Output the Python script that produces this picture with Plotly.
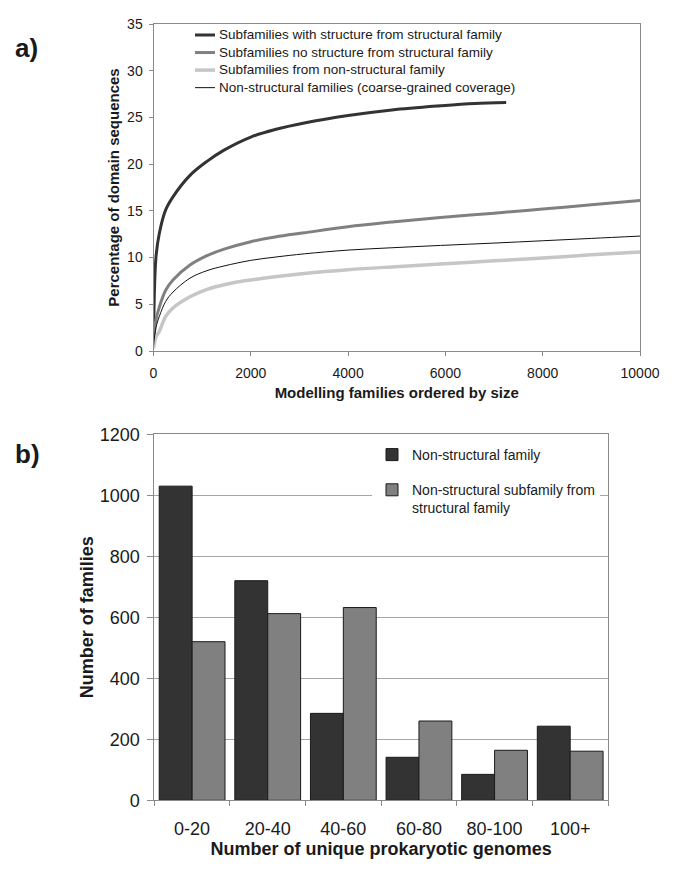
import plotly.graph_objects as go

# panel a: coverage curves (percentage of domain sequences vs modelling families)
series_names = [
    'Subfamilies with structure from structural family',
    'Subfamilies no structure from structural family',
    'Subfamilies from non-structural family',
    'Non-structural families (coarse-grained coverage)',
]
x_struct = [0, 50, 120, 250, 400, 750, 1100, 1450, 2000, 2500, 3100, 4000, 4900, 5900, 6600, 7250]
y_struct = [1.0, 10.0, 12.6, 15.1, 16.5, 18.8, 20.3, 21.5, 22.9, 23.7, 24.4, 25.2, 25.8, 26.25, 26.5, 26.6]

x_rest = [0, 50, 120, 250, 400, 750, 1100, 1450, 2000, 2500, 3100, 4000, 4900, 5900, 7000, 8000, 9000, 10000]
y_nostruct = [0.5, 3.3, 4.7, 6.5, 7.6, 9.2, 10.2, 10.9, 11.7, 12.2, 12.65, 13.3, 13.8, 14.3, 14.75, 15.2, 15.65, 16.1]
y_subnonstruct = [0.3, 1.5, 2.1, 3.7, 4.6, 5.8, 6.6, 7.1, 7.6, 7.95, 8.3, 8.7, 9.0, 9.3, 9.65, 9.95, 10.3, 10.6]
y_nonstruct = [0.5, 2.5, 3.7, 5.3, 6.3, 7.8, 8.6, 9.1, 9.7, 10.05, 10.4, 10.8, 11.05, 11.3, 11.55, 11.8, 12.05, 12.3]

# panel b: families by number of unique prokaryotic genomes
genome_bins = ['0-20', '20-40', '40-60', '60-80', '80-100', '100+']
nonstruct_family = [1030, 720, 285, 141, 85, 243]
nonstruct_subfamily = [520, 612, 632, 260, 164, 161]

W, H = 685, 869
font = 'Liberation Sans, Arial, sans-serif'
txt = '#1a1a1a'
axis_line = '#8a8a8a'

line_styles = [
    dict(color='#333333', width=3),
    dict(color='#808080', width=3),
    dict(color='#c6c6c6', width=3.5),
    dict(color='#111111', width=1),
]

fig = go.Figure()
curve_x = [x_struct, x_rest, x_rest, x_rest]
curve_y = [y_struct, y_nostruct, y_subnonstruct, y_nonstruct]
for name, xs, ys, st in zip(series_names, curve_x, curve_y, line_styles):
    fig.add_trace(go.Scatter(x=xs, y=ys, mode='lines', name=name, showlegend=False,
                             line=dict(shape='spline', smoothing=1.0, **st), xaxis='x', yaxis='y'))

fig.add_trace(go.Bar(x=genome_bins, y=nonstruct_family, name='Non-structural family',
                     marker=dict(color='#333333', line=dict(color='#1a1a1a', width=1)),
                     xaxis='x2', yaxis='y2', legend='legend2', legendgroup='a'))
fig.add_trace(go.Bar(x=genome_bins, y=nonstruct_subfamily, name='Non-structural subfamily from<br>structural family',
                     marker=dict(color='#808080', line=dict(color='#1a1a1a', width=1)),
                     xaxis='x2', yaxis='y2', legend='legend2', legendgroup='b'))

# legend for panel a drawn by hand: one text block plus line samples
leg_fs = 13.5
leg_step = leg_fs * 1.3
leg_top = 35
shapes = []
for i, st in enumerate(line_styles):
    ry = leg_top + i * leg_step
    shapes.append(dict(type='line', xref='paper', yref='paper', x0=195 / W, x1=215 / W,
                       y0=1 - ry / H, y1=1 - ry / H, line=st))

annotations = [
    dict(text='<br>'.join(series_names), align='left', x=217 / W,
         y=1 - (leg_top + 1.5 * leg_step) / H, xref='paper', yref='paper',
         xanchor='left', yanchor='middle', showarrow=False, font=dict(size=leg_fs, color=txt)),
    dict(text='<b>a)</b>', x=26 / W, y=1 - 48 / H, xref='paper', yref='paper', showarrow=False,
         xanchor='center', yanchor='middle', font=dict(size=26, color=txt)),
    dict(text='<b>b)</b>', x=27 / W, y=1 - 454 / H, xref='paper', yref='paper', showarrow=False,
         xanchor='center', yanchor='middle', font=dict(size=26, color=txt)),
]

fig.update_layout(
    width=W, height=H,
    margin=dict(l=0, r=0, t=0, b=0, autoexpand=False),
    paper_bgcolor='white', plot_bgcolor='white',
    font=dict(family=font, color=txt),
    barmode='group', bargap=0.13, bargroupgap=0,
    xaxis=dict(domain=[153.5 / W, 640 / W], anchor='y', range=[0, 10000], dtick=2000, tickformat='d',
               showline=True, mirror=True, linecolor=axis_line, linewidth=1, automargin=False,
               ticks='outside', ticklen=4, tickcolor=axis_line, showgrid=False, zeroline=False,
               tickfont=dict(size=14), ticklabelstandoff=5,
               title=dict(text='<b>Modelling families ordered by size</b>', font=dict(size=15), standoff=7)),
    yaxis=dict(domain=[1 - 351 / H, 1 - 24 / H], anchor='x', range=[0, 35], dtick=5,
               showline=True, mirror=True, linecolor=axis_line, linewidth=1, automargin=False,
               ticks='outside', ticklen=4, tickcolor=axis_line, showgrid=False, zeroline=False,
               tickfont=dict(size=14), ticklabelstandoff=3,
               title=dict(text='<b>Percentage of domain sequences</b>', font=dict(size=15), standoff=3)),
    xaxis2=dict(domain=[154.3 / W, 608 / W], anchor='y2',
                showline=True, mirror=True, linecolor=axis_line, linewidth=1, automargin=False,
                ticks='outside', ticklen=5, tickcolor=axis_line, tickson='boundaries', showgrid=False,
                tickfont=dict(size=18), ticklabelstandoff=12,
                title=dict(text='<b>Number of unique prokaryotic genomes</b>', font=dict(size=18), standoff=3)),
    yaxis2=dict(domain=[1 - 800.3 / H, 1 - 434.3 / H], anchor='x2', range=[0, 1200], dtick=200,
                showline=True, mirror=True, linecolor=axis_line, linewidth=1, automargin=False,
                ticks='outside', ticklen=6, tickcolor=axis_line, showgrid=True, gridcolor='#a6a6a6',
                zeroline=False, tickfont=dict(size=18), ticklabelstandoff=4,
                title=dict(text='<b>Number of families</b>', font=dict(size=18), standoff=1)),
    legend2=dict(x=372 / W, y=1 - 439 / H, xanchor='left', yanchor='top', bgcolor='white',
                 font=dict(size=14, color=txt), tracegroupgap=14, itemwidth=30, valign='top'),
    shapes=shapes,
    annotations=annotations,
    showlegend=True,
)

# the page body has a default 8px margin; drop it so the figure fills the window
fig.write_html('out.html', config={'displayModeBar': False},
               post_script="document.body.style.margin='0';")
